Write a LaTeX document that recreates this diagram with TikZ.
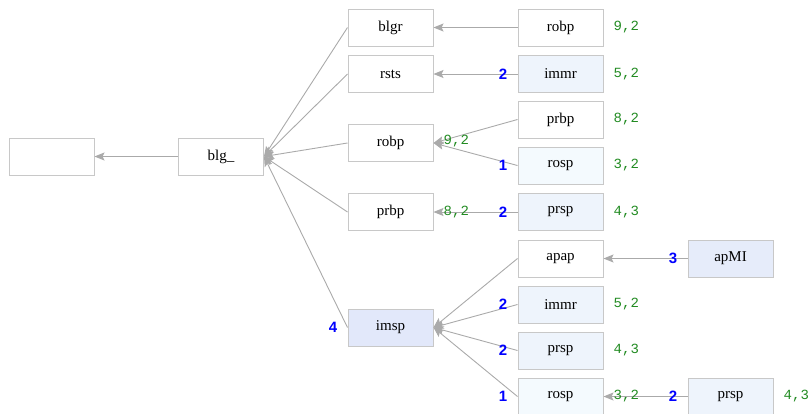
\documentclass[tikz,border=0pt]{standalone}
\usepackage{fontspec}
\setmainfont{Liberation Serif}
\newfontfamily\numfont{Liberation Sans}
\newfontfamily\monofont{Liberation Mono}
\usetikzlibrary{arrows.meta}
\definecolor{boxline}{HTML}{C8C8C8}
\definecolor{edgecol}{HTML}{AAAAAA}
\definecolor{lav}{HTML}{E2E8FA}
\definecolor{lav2}{HTML}{E6ECFA}
\definecolor{pale}{HTML}{EEF4FC}
\definecolor{cyanpale}{HTML}{F4FAFE}
\definecolor{grn}{HTML}{228B22}
\begin{document}
\begin{tikzpicture}[x=1pt,y=-1pt,
  box/.style={draw=boxline,line width=1pt,fill=white,minimum width=85pt,minimum height=37pt,inner sep=0pt,font=\fontsize{15}{18}\selectfont},
  edge/.style={draw=edgecol,line width=0.9pt,-{Stealth[length=10pt,width=8pt,inset=2pt]}},
  gl/.style={text=grn,font=\monofont\fontsize{14}{16}\selectfont,inner sep=0pt,anchor=west},
  bl/.style={text=blue,font=\numfont\bfseries\fontsize{15}{17}\selectfont,inner sep=0pt,anchor=east}]
\path[use as bounding box] (0,0) rectangle (812,413);
% nodes
\node[box] (empty) at (51.5,156.5) {};
\node[box] (blg) at (221,156.5) {blg\_};
\node[box] (blgr) at (390.5,27.5) {blgr};
\node[box] (rsts) at (390.5,74) {rsts};
\node[box] (robpA) at (390.5,143) {robp};
\node[box] (prbpA) at (390.5,212) {prbp};
\node[box,fill=lav] (imsp) at (390.5,327.5) {imsp};
\node[box] (robpB) at (560.5,27.5) {robp};
\node[box,fill=pale] (immrA) at (560.5,74) {immr};
\node[box] (prbpB) at (560.5,119.5) {prbp};
\node[box,fill=cyanpale] (rospA) at (560.5,165.5) {rosp};
\node[box,fill=pale] (prspA) at (560.5,212) {prsp};
\node[box] (apap) at (560.5,258.5) {apap};
\node[box,fill=pale] (immrB) at (560.5,304.5) {immr};
\node[box,fill=pale] (prspB) at (560.5,350.5) {prsp};
\node[box,fill=cyanpale] (rospB) at (560.5,396.5) {rosp};
\node[box,fill=lav2] (apMI) at (730.5,258.5) {apMI};
\node[box,fill=pale] (prspC) at (730.5,396.5) {prsp};
% edges
\draw[edge] (blg.west) -- (empty.east);
\draw[edge] (blgr.west) -- (blg.east);
\draw[edge] (rsts.west) -- (blg.east);
\draw[edge] (robpA.west) -- (blg.east);
\draw[edge] (prbpA.west) -- (blg.east);
\draw[edge] (imsp.west) -- (blg.east);
\draw[edge] (robpB.west) -- (blgr.east);
\draw[edge] (immrA.west) -- (rsts.east);
\draw[edge] (prbpB.west) -- (robpA.east);
\draw[edge] (rospA.west) -- (robpA.east);
\draw[edge] (prspA.west) -- (prbpA.east);
\draw[edge] (apap.west) -- (imsp.east);
\draw[edge] (immrB.west) -- (imsp.east);
\draw[edge] (prspB.west) -- (imsp.east);
\draw[edge] (rospB.west) -- (imsp.east);
\draw[edge] (apMI.west) -- (apap.east);
\draw[edge] (prspC.west) -- (rospB.east);
% green labels
\node[gl] (g1) at ([xshift=10pt]robpB.east) {9,2};
\node[gl] (g2) at ([xshift=10pt]immrA.east) {5,2};
\node[gl] (g3) at ([xshift=10pt]prbpB.east) {8,2};
\node[gl] (g4) at ([xshift=10pt]rospA.east) {3,2};
\node[gl] (g5) at ([xshift=10pt]prspA.east) {4,3};
\node[gl] (g6) at ([xshift=10pt]immrB.east) {5,2};
\node[gl] (g7) at ([xshift=10pt]prspB.east) {4,3};
\node[gl] (g8) at ([xshift=10pt]prspC.east) {4,3};
\node[gl] (g9) at ([xshift=10pt,yshift=1.5pt]robpA.east) {9,2};
\node[gl] (g10) at ([xshift=10pt]prbpA.east) {8,2};
\node[gl] (g11) at ([xshift=10pt]rospB.east) {3,2};
% blue labels
\node[bl] (b1) at ([xshift=-10pt]immrA.west) {2};
\node[bl] (b2) at ([xshift=-10pt]rospA.west) {1};
\node[bl] (b3) at ([xshift=-10pt]prspA.west) {2};
\node[bl] (b4) at ([xshift=-10pt]imsp.west) {4};
\node[bl] (b5) at ([xshift=-10pt]apMI.west) {3};
\node[bl] (b6) at ([xshift=-10pt]immrB.west) {2};
\node[bl] (b7) at ([xshift=-10pt]prspB.west) {2};
\node[bl] (b8) at ([xshift=-10pt]rospB.west) {1};
\node[bl] (b9) at ([xshift=-10pt]prspC.west) {2};
\end{tikzpicture}
\end{document}
